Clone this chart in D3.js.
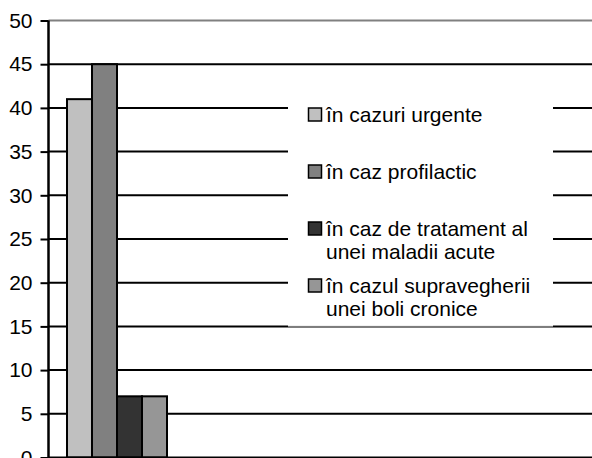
<!DOCTYPE html>
<html>
<head>
    <meta charset="utf-8">
    <script src="https://cdn.jsdelivr.net/npm/d3@7"></script>
    <style>
        body { margin: 0; background: #fff; }
        text { font-family: "Liberation Sans", Arial, sans-serif; }
    </style>
</head>
<body>
    <svg width="592" height="458" id="mainsvg"></svg>
    <script>
        // data
        const seriesNames = ['în cazuri urgente', 'în caz profilactic', 'în caz de tratament al unei maladii acute', 'în cazul supravegherii unei boli cronice'];
        const legendLines = [['în cazuri urgente'], ['în caz profilactic'], ['în caz de tratament al', 'unei maladii acute'], ['în cazul supravegherii', 'unei boli cronice']];
        const values = [41, 45, 7, 7];
        const colors = ['#c0c0c0', '#808080', '#333333', '#969696'];
        const yTicks = [0, 5, 10, 15, 20, 25, 30, 35, 40, 45, 50];

        const svg = d3.select('#mainsvg');
        const width = +svg.attr('width');

        const y = d3.scaleLinear().domain([0, 50]).range([457.5, 20.5]);
        const x = d3.scaleBand().domain(seriesNames).range([67, 167]).padding(0);
        const axisX = 48.5;

        // gridlines
        svg.append('g').selectAll('line')
            .data(yTicks.filter(d => d > 0))
            .enter().append('line')
            .attr('x1', axisX).attr('x2', width)
            .attr('y1', d => y(d)).attr('y2', d => y(d))
            .attr('stroke', d => d === 50 ? '#808080' : '#000')
            .attr('stroke-width', 2);

        // legend box (covers gridlines)
        const lg = svg.append('g');
        lg.append('rect')
            .attr('x', 288).attr('y', 80)
            .attr('width', 265).attr('height', y(15) - 80)
            .attr('fill', '#fff');
        lg.append('line')
            .attr('x1', 288).attr('x2', 553)
            .attr('y1', y(15)).attr('y2', y(15))
            .attr('stroke', '#808080').attr('stroke-width', 1);

        const items = lg.selectAll('g.item')
            .data(legendLines)
            .enter().append('g')
            .attr('class', 'item')
            .attr('transform', (d, i) => `translate(0, ${121.5 + i * 57})`);
        items.append('rect')
            .attr('x', 308.5).attr('y', -13.5)
            .attr('width', 13).attr('height', 13)
            .attr('fill', (d, i) => colors[i])
            .attr('stroke', '#000').attr('stroke-width', 1.5);
        items.each(function (lines) {
            const t = d3.select(this).append('text')
                .attr('x', 326).attr('y', 0)
                .attr('font-size', 21).attr('fill', '#000');
            lines.forEach((l, j) => {
                t.append('tspan').attr('x', 326).attr('dy', j === 0 ? 0 : 23.5).text(l);
            });
        });

        // bars
        svg.append('g').selectAll('rect')
            .data(values)
            .enter().append('rect')
            .attr('x', (d, i) => x(seriesNames[i]))
            .attr('y', d => y(d))
            .attr('width', x.bandwidth())
            .attr('height', d => y(0) - y(d))
            .attr('fill', (d, i) => colors[i])
            .attr('stroke', '#000')
            .attr('stroke-width', 2);

        // y axis
        const yAxis = d3.axisLeft(y).tickValues(yTicks).tickSize(8).tickSizeOuter(0).tickPadding(8);
        const ax = svg.append('g')
            .attr('transform', `translate(${axisX}, 0)`)
            .call(yAxis);
        ax.select('.domain').attr('stroke', '#000').attr('stroke-width', 2.5)
            .attr('d', `M0,${y(50)}V${y(0) + 2}`);
        ax.selectAll('.tick line').attr('stroke', '#000').attr('stroke-width', 2);
        ax.selectAll('.tick text')
            .attr('font-size', 21)
            .attr('font-family', '"Liberation Sans", Arial, sans-serif')
            .attr('fill', '#000');

        // x axis baseline
        svg.append('line')
            .attr('x1', axisX).attr('x2', width)
            .attr('y1', y(0)).attr('y2', y(0))
            .attr('stroke', '#000').attr('stroke-width', 2);
    </script>
</body>
</html>
